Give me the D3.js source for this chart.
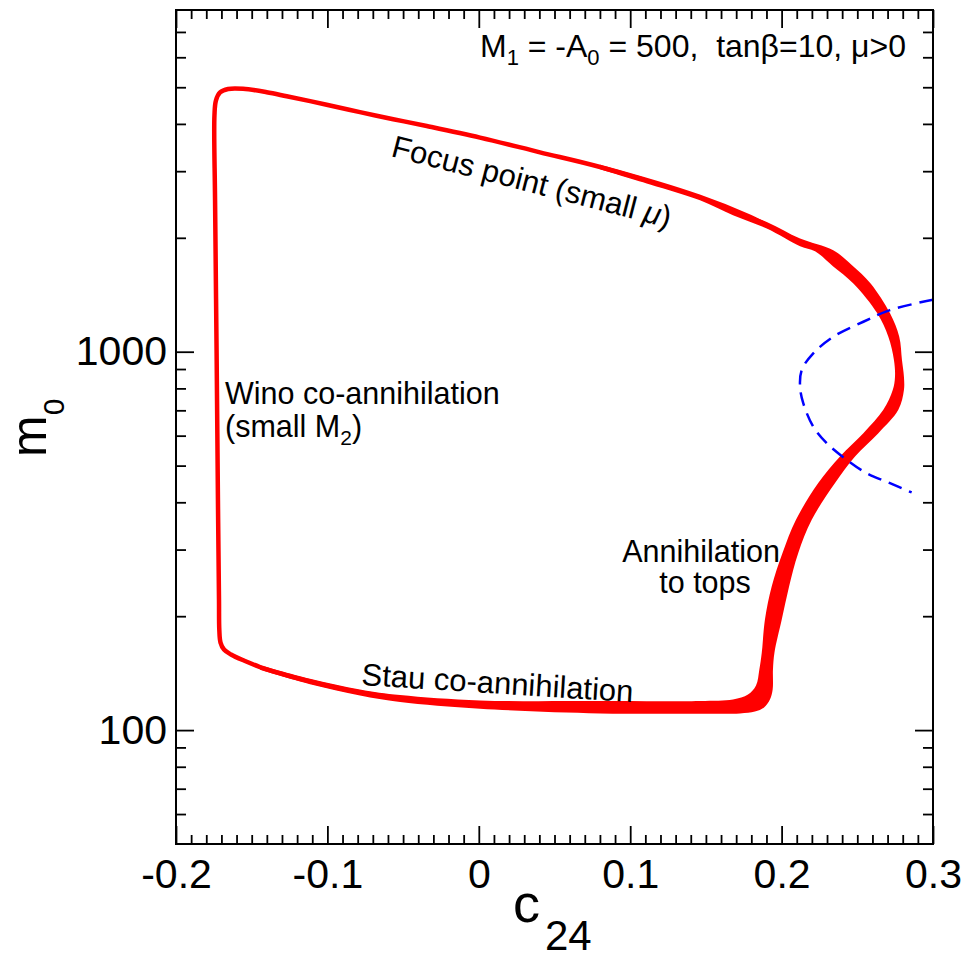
<!DOCTYPE html>
<html>
<head>
<meta charset="utf-8">
<script src="https://cdn.jsdelivr.net/npm/d3@7"></script>
<style>
  body { margin: 0; background: #fff; }
  text { font-family: "Liberation Sans", Arial, Helvetica, sans-serif; fill: #000; }
</style>
</head>
<body>
<div id="chart"></div>
<script>
var w = 968;
var h = 960;
var margin = {left: 176, right: 35, top: 10, bottom: 116};

// axis ticks
var xTicks = [-0.2, -0.1, 0, 0.1, 0.2, 0.3];
var yTicks = [100, 1000];
var yMinor = [60, 70, 80, 90, 200, 300, 400, 500, 600, 700, 800, 900,
              2000, 3000, 4000, 5000, 6000, 7000];

// centre line of the relic-density strip, a closed loop [c24, m0]
var loopPts = [
  [-0.1656, 4948], [-0.1709, 4843], [-0.1736, 4615], [-0.1746, 4212],
  [-0.1742, 2513], [-0.1732, 1010], [-0.1723, 406], [-0.1716, 221],
  [-0.1714, 184.4], [-0.1706, 170.4], [-0.1683, 163.3], [-0.1637, 158.4],
  [-0.1545, 152.3], [-0.1445, 146.8], [-0.1115, 134.5], [-0.0785, 125.8],
  [-0.0455, 120.5], [0.0008, 116.9], [0.080, 114.8], [0.146, 114.8],
  [0.1725, 116.9], [0.1845, 122.7], [0.189, 136], [0.1917, 163],
  [0.1943, 196], [0.199, 250], [0.2055, 294], [0.2141, 360],
  [0.2299, 450], [0.2418, 528], [0.259, 610], [0.2722, 702],
  [0.2775, 827], [0.2769, 951], [0.2736, 1093], [0.267, 1265],
  [0.2531, 1518], [0.2273, 1855], [0.2121, 1951], [0.1791, 2271],
  [0.146, 2564], [0.0801, 3077], [0.0404, 3365], [0.0008, 3680],
  [-0.0344, 3948], [-0.0565, 4116], [-0.0785, 4297], [-0.1005, 4496],
  [-0.1269, 4733], [-0.1401, 4851], [-0.1557, 4954]
];

// wide part of the strip: outer and inner edges [c24, m0]
var outerEdge = [
  [-0.1445, 144.3], [-0.1115, 132.2], [-0.0785, 123.5], [-0.052, 118.7],
  [0.0008, 113.9], [0.0801, 110.7], [0.1461, 110.5],
  [0.1725, 110.7], [0.1824, 112.0], [0.1884, 114.8], [0.1923, 120.5],
  [0.1941, 128.1], [0.1943, 144.6], [0.1953, 160.3], [0.2001, 196.0],
  [0.2049, 239.4], [0.2110, 293.8], [0.2199, 359.6], [0.2353, 449.6],
  [0.2485, 528.4], [0.2639, 609.2], [0.2771, 702], [0.2808, 792],
  [0.2808, 859], [0.2795, 951], [0.2777, 1095], [0.2716, 1263],
  [0.2588, 1515], [0.2465, 1693], [0.2341, 1855], [0.2122, 1992],
  [0.1902, 2203], [0.1679, 2373], [0.1461, 2575], [0.1131, 2852],
  [0.0801, 3118]
];
var innerEdge = [
  [-0.1445, 148.4], [-0.1115, 136.7], [-0.0785, 128.1], [-0.052, 123.8],
  [0.0008, 119.8], [0.0801, 119.3], [0.1461, 119.4],
  [0.1679, 120.5], [0.1778, 124.2], [0.1831, 131.2], [0.1853, 144.6],
  [0.1869, 160.0], [0.1890, 196.0], [0.1935, 239.9], [0.2006, 293.8],
  [0.2095, 359.6], [0.2242, 449.6], [0.2386, 528.4], [0.2540, 609.2],
  [0.2672, 702], [0.2734, 792], [0.2749, 859], [0.2742, 951],
  [0.2705, 1095], [0.2632, 1263], [0.2474, 1515], [0.2339, 1683],
  [0.2221, 1843], [0.2122, 1901], [0.1902, 2116], [0.1679, 2295],
  [0.1461, 2513], [0.1131, 2767], [0.0801, 3036]
];

// blue dashed contour
var dashPts = [
  [0.3, 1373], [0.2716, 1288], [0.254, 1200], [0.2341, 1095],
  [0.2209, 990], [0.2133, 895], [0.2122, 808], [0.2143, 731],
  [0.2209, 634], [0.2298, 573], [0.243, 518], [0.2562, 477.6],
  [0.2716, 449.6], [0.2859, 424.6]
];

var svg = d3.select("#chart")
            .append("svg")
            .attr("width", w)
            .attr("height", h);

// scales
var xScale = d3.scaleLinear()
    .domain([-0.2, 0.3])
    .range([margin.left, w - margin.right]);
var yScale = d3.scaleLog()
    .domain([50, 8000])
    .range([h - margin.bottom, margin.top]);

var xMinor = d3.range(-19, 30).map(i => i / 100).filter(v => Math.abs(v * 10 - Math.round(v * 10)) > 1e-6);

svg.append("clipPath").attr("id", "plotclip")
   .append("rect")
   .attr("x", margin.left).attr("y", margin.top)
   .attr("width", w - margin.left - margin.right)
   .attr("height", h - margin.top - margin.bottom);

var plot = svg.append("g").attr("clip-path", "url(#plotclip)");

// strip
var openLine = d3.line()
    .x(d => xScale(d[0]))
    .y(d => yScale(d[1]))
    .curve(d3.curveCatmullRom.alpha(0.5));
var closedLine = d3.line()
    .x(d => xScale(d[0]))
    .y(d => yScale(d[1]))
    .curve(d3.curveCatmullRomClosed.alpha(0.5));

// band = outer edge, then inner edge back, joined by straight ends
var bandPath = openLine(outerEdge) + "L" + openLine(innerEdge.slice().reverse()).slice(1) + "Z";
plot.append("path")
    .attr("d", bandPath)
    .attr("fill", "#ff0000")
    .attr("stroke", "none");

plot.append("path")
    .datum(loopPts)
    .attr("d", closedLine)
    .attr("fill", "none")
    .attr("stroke", "#ff0000")
    .attr("stroke-width", 4.5)
    .attr("stroke-linejoin", "round");

plot.append("path")
    .datum(dashPts)
    .attr("d", openLine)
    .attr("fill", "none")
    .attr("stroke", "#0000ff")
    .attr("stroke-width", 2.5)
    .attr("stroke-dasharray", "14,8");

// AXES
function styleAxis(g) {
    g.select(".domain").remove();
    g.selectAll(".tick line").attr("stroke", "#000").attr("stroke-width", 1.8);
    g.selectAll("text")
     .attr("font-size", 41)
     .attr("font-family", "Liberation Sans, Arial, sans-serif")
     .attr("fill", "#000");
}
var bottomY = h - margin.bottom;
var rightX = w - margin.right;

// bottom
svg.append("g").attr("transform", "translate(0," + bottomY + ")")
   .call(d3.axisBottom(xScale).tickValues(xMinor).tickSize(-9).tickFormat(""))
   .call(styleAxis);
svg.append("g").attr("transform", "translate(0," + bottomY + ")")
   .call(d3.axisBottom(xScale).tickValues(xTicks).tickSize(-18).tickPadding(15)
         .tickFormat(d => String(d)))
   .call(styleAxis);
// top
svg.append("g").attr("transform", "translate(0," + margin.top + ")")
   .call(d3.axisTop(xScale).tickValues(xMinor).tickSize(-9).tickFormat(""))
   .call(styleAxis);
svg.append("g").attr("transform", "translate(0," + margin.top + ")")
   .call(d3.axisTop(xScale).tickValues(xTicks).tickSize(-18).tickFormat(""))
   .call(styleAxis);
// left
svg.append("g").attr("transform", "translate(" + margin.left + ",0)")
   .call(d3.axisLeft(yScale).tickValues(yMinor).tickSize(-10).tickFormat(""))
   .call(styleAxis);
svg.append("g").attr("transform", "translate(" + margin.left + ",0)")
   .call(d3.axisLeft(yScale).tickValues(yTicks).tickSize(-18).tickPadding(9)
         .tickFormat(d3.format("d")))
   .call(styleAxis);
// right
svg.append("g").attr("transform", "translate(" + rightX + ",0)")
   .call(d3.axisRight(yScale).tickValues(yMinor).tickSize(-10).tickFormat(""))
   .call(styleAxis);
svg.append("g").attr("transform", "translate(" + rightX + ",0)")
   .call(d3.axisRight(yScale).tickValues(yTicks).tickSize(-18).tickFormat(""))
   .call(styleAxis);

// frame
svg.append("rect")
   .attr("x", margin.left).attr("y", margin.top)
   .attr("width", rightX - margin.left)
   .attr("height", bottomY - margin.top)
   .attr("fill", "none")
   .attr("stroke", "#000")
   .attr("stroke-width", 2);

// axis titles
var xt = svg.append("text").attr("x", 513).attr("y", 922).attr("font-size", 54);
xt.append("tspan").text("c");
xt.append("tspan").attr("dx", 5).attr("dy", 28).attr("font-size", 42).text("24");

var yt = svg.append("text")
    .attr("transform", "translate(46,457) rotate(-90)")
    .attr("font-size", 50);
yt.append("tspan").text("m");
yt.append("tspan").attr("dy", 18).attr("font-size", 30).text("0");

// labels
var title = svg.append("text")
    .attr("x", 906).attr("y", 57)
    .attr("text-anchor", "end")
    .attr("font-size", 32)
    .style("white-space", "pre");
title.append("tspan").text("M");
title.append("tspan").attr("dy", 8).attr("font-size", 22).text("1");
title.append("tspan").attr("dy", -8).text(" = -A");
title.append("tspan").attr("dy", 8).attr("font-size", 22).text("0");
title.append("tspan").attr("dy", -8).text(" = 500,  tan\u03B2=10, \u03BC>0");

var focus = svg.append("text")
    .attr("transform", "translate(390,156) rotate(14.5)")
    .attr("font-size", 31)
    .style("white-space", "pre");
focus.append("tspan").text("Focus point (small ");
focus.append("tspan").attr("font-style", "italic").text("\u03BC");
focus.append("tspan").text(")");

svg.append("text")
   .attr("transform", "translate(361,685) rotate(3.6)")
   .attr("font-size", 31)
   .text("Stau co-annihilation");

svg.append("text").attr("x", 225).attr("y", 404).attr("font-size", 30.5)
   .text("Wino co-annihilation");
var wino2 = svg.append("text").attr("x", 225).attr("y", 437).attr("font-size", 30.5);
wino2.append("tspan").text("(small M");
wino2.append("tspan").attr("dy", 8).attr("font-size", 21).text("2");
wino2.append("tspan").attr("dy", -8).text(")");

svg.append("text").attr("x", 701).attr("y", 562).attr("font-size", 30.5)
   .attr("text-anchor", "middle").text("Annihilation");
svg.append("text").attr("x", 705).attr("y", 593).attr("font-size", 30.5)
   .attr("text-anchor", "middle").text("to tops");
</script>
</body>
</html>
